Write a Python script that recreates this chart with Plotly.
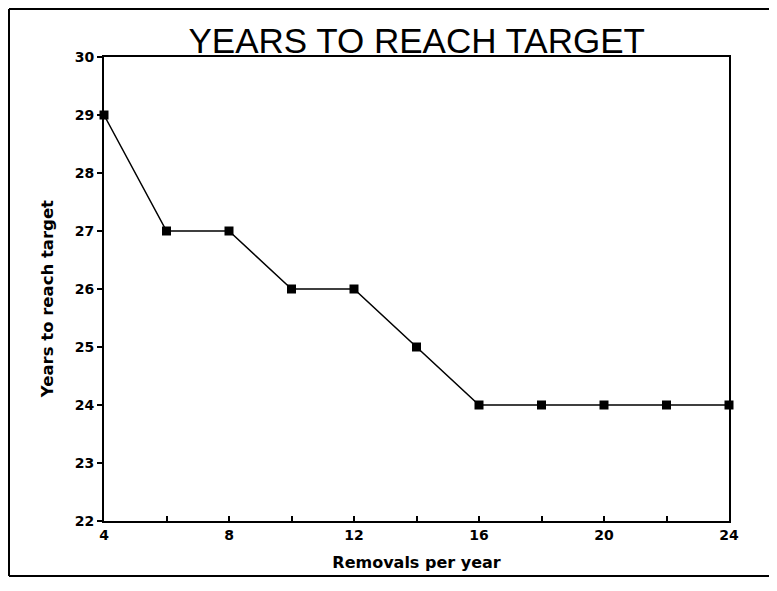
import plotly.graph_objects as go

removals = [4, 6, 8, 10, 12, 14, 16, 18, 20, 22, 24]
years = [29, 27, 27, 26, 26, 25, 24, 24, 24, 24, 24]
x_ticks = [4, 6, 8, 10, 12, 14, 16, 18, 20, 22, 24]
x_labels = ["4", "", "8", "", "12", "", "16", "", "20", "", "24"]
y_ticks = [22, 23, 24, 25, 26, 27, 28, 29, 30]

title_font = "Liberation Sans, Arial, Helvetica, sans-serif"
label_font = "DejaVu Sans, Verdana, sans-serif"

fig = go.Figure()
fig.add_trace(go.Scatter(
    x=removals, y=years, mode="lines+markers",
    line=dict(color="black", width=1.5),
    marker=dict(symbol="square", size=9, color="black"),
    cliponaxis=False, showlegend=False,
))

fig.update_layout(
    width=777, height=591,
    plot_bgcolor="white", paper_bgcolor="white",
    margin=dict(l=96, r=56, t=49, b=78),
    title=dict(text="YEARS TO REACH TARGET", x=0.526, xanchor="center",
               y=0.945, yanchor="middle",
               font=dict(family=title_font, size=35, color="black")),
    font=dict(family=label_font, color="black"),
)
fig.update_xaxes(
    range=[4, 24], tickvals=x_ticks, ticktext=x_labels,
    ticks="inside", ticklen=5, tickwidth=1.5, tickcolor="black",
    showline=True, linecolor="black", linewidth=2, mirror=True,
    showgrid=False, zeroline=False,
    tickfont=dict(size=14, weight="bold"),
    title=dict(text="<b>Removals per year</b>", font=dict(size=16), standoff=15),
)
fig.update_yaxes(
    range=[22, 30], tickvals=y_ticks,
    ticks="outside", ticklen=5, tickwidth=1.5, tickcolor="black",
    showline=True, linecolor="black", linewidth=2, mirror=True,
    showgrid=False, zeroline=False,
    tickfont=dict(size=14, weight="bold"),
)

# y title sits a little below the axis centre in the original
fig.add_annotation(text="<b>Years to reach target</b>", xref="paper", yref="paper",
                   x=-0.0912, y=0.478, xanchor="center", yanchor="middle",
                   textangle=-90, showarrow=False,
                   font=dict(size=16.5, color="black"))

# outer border of the scanned page
border = dict(color="black", width=2)
fig.add_shape(type="line", xref="paper", yref="paper", x0=-0.152, x1=1.1, y0=1.1034, y1=1.1034, line=border)
fig.add_shape(type="line", xref="paper", yref="paper", x0=-0.152, x1=-0.152, y0=1.1034, y1=-0.1185, line=border)
fig.add_shape(type="line", xref="paper", yref="paper", x0=-0.152, x1=1.1, y0=-0.1185, y1=-0.1185, line=border)

fig.write_html("out.html")
